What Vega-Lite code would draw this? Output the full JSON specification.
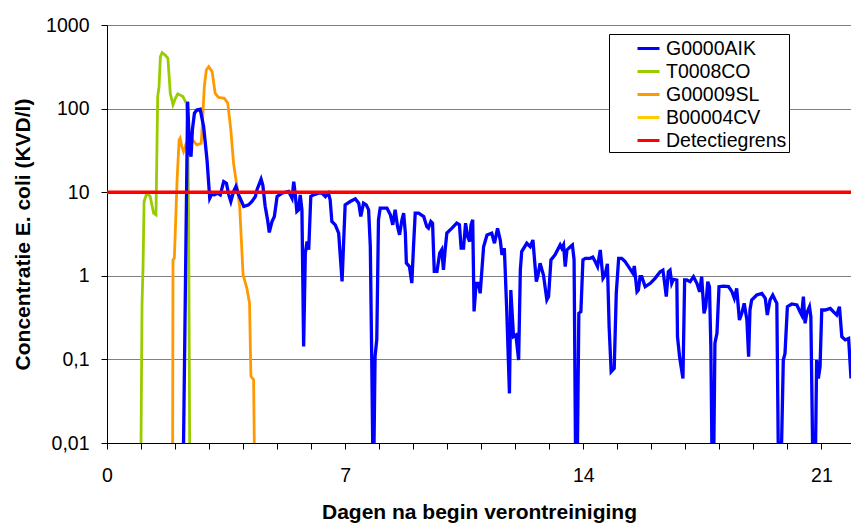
{
  "$schema": "https://vega.github.io/schema/vega-lite/v6.json",
  "width": 744,
  "height": 418,
  "autosize": {"type": "none"},
  "padding": {"left": 107, "top": 25, "right": 0, "bottom": 80},
  "background": "white",
  "config": {
    "view": {"stroke": null},
    "font": "Liberation Sans",
    "axis": {"labelFont": "Liberation Sans", "titleFont": "Liberation Sans", "labelColor": "black", "titleColor": "black", "domainColor": "black", "tickColor": "black", "domainWidth": 1, "tickWidth": 1}
  },
  "data": {"values": [
    {"serie":"T0008CO","dag":1.0,"waarde":0.01},{"serie":"T0008CO","dag":1.03,"waarde":0.471},{"serie":"T0008CO","dag":1.06,"waarde":1.29},{"serie":"T0008CO","dag":1.09,"waarde":7.73},{"serie":"T0008CO","dag":1.17,"waarde":9.73},{"serie":"T0008CO","dag":1.27,"waarde":8.87},{"serie":"T0008CO","dag":1.37,"waarde":5.61},{"serie":"T0008CO","dag":1.44,"waarde":5.36},{"serie":"T0008CO","dag":1.49,"waarde":139},{"serie":"T0008CO","dag":1.53,"waarde":183},{"serie":"T0008CO","dag":1.57,"waarde":419},{"serie":"T0008CO","dag":1.62,"waarde":467},{"serie":"T0008CO","dag":1.71,"waarde":437},{"serie":"T0008CO","dag":1.79,"waarde":400},{"serie":"T0008CO","dag":1.86,"waarde":152},{"serie":"T0008CO","dag":1.94,"waarde":111},{"serie":"T0008CO","dag":2.01,"waarde":133},{"serie":"T0008CO","dag":2.08,"waarde":150},{"serie":"T0008CO","dag":2.23,"waarde":139},{"serie":"T0008CO","dag":2.33,"waarde":116},{"serie":"T0008CO","dag":2.37,"waarde":73},{"serie":"T0008CO","dag":2.4,"waarde":4.67},{"serie":"T0008CO","dag":2.43,"waarde":0.01},
    {"serie":"G00009SL","dag":1.93,"waarde":0.01},{"serie":"G00009SL","dag":1.94,"waarde":1.55},{"serie":"G00009SL","dag":1.98,"waarde":1.63},{"serie":"G00009SL","dag":2.02,"waarde":4.67},{"serie":"G00009SL","dag":2.06,"waarde":14.0},{"serie":"G00009SL","dag":2.12,"waarde":42.2},{"serie":"G00009SL","dag":2.15,"waarde":44.2},{"serie":"G00009SL","dag":2.2,"waarde":35.1},{"serie":"G00009SL","dag":2.25,"waarde":30.6},{"serie":"G00009SL","dag":2.33,"waarde":38.5},{"serie":"G00009SL","dag":2.4,"waarde":42.2},{"serie":"G00009SL","dag":2.5,"waarde":43.0},{"serie":"G00009SL","dag":2.64,"waarde":36.8},{"serie":"G00009SL","dag":2.77,"waarde":38.5},{"serie":"G00009SL","dag":2.81,"waarde":73.3},{"serie":"G00009SL","dag":2.86,"waarde":183},{"serie":"G00009SL","dag":2.92,"waarde":290},{"serie":"G00009SL","dag":2.99,"waarde":318},{"serie":"G00009SL","dag":3.09,"waarde":277},{"serie":"G00009SL","dag":3.18,"waarde":152},{"serie":"G00009SL","dag":3.28,"waarde":136},{"serie":"G00009SL","dag":3.45,"waarde":133},{"serie":"G00009SL","dag":3.55,"waarde":116},{"serie":"G00009SL","dag":3.64,"waarde":55.6},{"serie":"G00009SL","dag":3.72,"waarde":22.2},{"serie":"G00009SL","dag":3.82,"waarde":11.7},{"serie":"G00009SL","dag":3.9,"waarde":6.75},{"serie":"G00009SL","dag":4.0,"waarde":1.03},{"serie":"G00009SL","dag":4.11,"waarde":0.713},{"serie":"G00009SL","dag":4.19,"waarde":0.471},{"serie":"G00009SL","dag":4.23,"waarde":0.0627},{"serie":"G00009SL","dag":4.31,"waarde":0.0572},{"serie":"G00009SL","dag":4.33,"waarde":0.01},
    {"serie":"G0000AIK","dag":2.25,"waarde":0.01},{"serie":"G0000AIK","dag":2.37,"waarde":121},{"serie":"G0000AIK","dag":2.43,"waarde":30.6},{"serie":"G0000AIK","dag":2.47,"waarde":26.7},{"serie":"G0000AIK","dag":2.51,"waarde":55.6},{"serie":"G0000AIK","dag":2.57,"waarde":88},{"serie":"G0000AIK","dag":2.64,"waarde":96},{"serie":"G0000AIK","dag":2.74,"waarde":98},{"serie":"G0000AIK","dag":2.84,"waarde":61},{"serie":"G0000AIK","dag":2.94,"waarde":24.3},{"serie":"G0000AIK","dag":3.02,"waarde":8.47},{"serie":"G0000AIK","dag":3.09,"waarde":9.73},{"serie":"G0000AIK","dag":3.15,"waarde":9.29},{"serie":"G0000AIK","dag":3.25,"waarde":9.73},{"serie":"G0000AIK","dag":3.33,"waarde":9.29},{"serie":"G0000AIK","dag":3.43,"waarde":13.4},{"serie":"G0000AIK","dag":3.51,"waarde":12.8},{"serie":"G0000AIK","dag":3.58,"waarde":9.29},{"serie":"G0000AIK","dag":3.64,"waarde":7.73},{"serie":"G0000AIK","dag":3.72,"waarde":10.2},{"serie":"G0000AIK","dag":3.79,"waarde":11.7},{"serie":"G0000AIK","dag":3.87,"waarde":9.29},{"serie":"G0000AIK","dag":4.02,"waarde":6.75},{"serie":"G0000AIK","dag":4.16,"waarde":7.06},{"serie":"G0000AIK","dag":4.26,"waarde":7.73},{"serie":"G0000AIK","dag":4.36,"waarde":8.87},{"serie":"G0000AIK","dag":4.41,"waarde":10.7},{"serie":"G0000AIK","dag":4.53,"waarde":14.3},{"serie":"G0000AIK","dag":4.58,"waarde":12.2},{"serie":"G0000AIK","dag":4.65,"waarde":6.75},{"serie":"G0000AIK","dag":4.72,"waarde":4.67},{"serie":"G0000AIK","dag":4.77,"waarde":3.3},{"serie":"G0000AIK","dag":4.85,"waarde":4.46},{"serie":"G0000AIK","dag":4.92,"waarde":5.12},{"serie":"G0000AIK","dag":5.0,"waarde":8.87},{"serie":"G0000AIK","dag":5.14,"waarde":9.73},{"serie":"G0000AIK","dag":5.34,"waarde":10.2},
    {"serie":"G0000AIK","dag":5.44,"waarde":8.47},{"serie":"G0000AIK","dag":5.49,"waarde":13.4},{"serie":"G0000AIK","dag":5.53,"waarde":9.73},{"serie":"G0000AIK","dag":5.58,"waarde":5.88},{"serie":"G0000AIK","dag":5.63,"waarde":6.15},{"serie":"G0000AIK","dag":5.68,"waarde":9.29},{"serie":"G0000AIK","dag":5.73,"waarde":6.15},{"serie":"G0000AIK","dag":5.78,"waarde":0.143},{"serie":"G0000AIK","dag":5.83,"waarde":1.87},{"serie":"G0000AIK","dag":5.88,"waarde":2.57},{"serie":"G0000AIK","dag":5.93,"waarde":2.05},{"serie":"G0000AIK","dag":5.99,"waarde":8.87},{"serie":"G0000AIK","dag":6.07,"waarde":9.29},{"serie":"G0000AIK","dag":6.22,"waarde":9.73},{"serie":"G0000AIK","dag":6.32,"waarde":9.73},{"serie":"G0000AIK","dag":6.42,"waarde":8.87},{"serie":"G0000AIK","dag":6.51,"waarde":9.73},{"serie":"G0000AIK","dag":6.56,"waarde":8.09},{"serie":"G0000AIK","dag":6.61,"waarde":4.46},{"serie":"G0000AIK","dag":6.71,"waarde":4.07},{"serie":"G0000AIK","dag":6.81,"waarde":3.24},{"serie":"G0000AIK","dag":6.91,"waarde":0.855},{"serie":"G0000AIK","dag":7.0,"waarde":7.06},{"serie":"G0000AIK","dag":7.15,"waarde":7.73},{"serie":"G0000AIK","dag":7.3,"waarde":8.32},{"serie":"G0000AIK","dag":7.4,"waarde":7.4},{"serie":"G0000AIK","dag":7.46,"waarde":5.12},{"serie":"G0000AIK","dag":7.54,"waarde":7.4},{"serie":"G0000AIK","dag":7.62,"waarde":7.06},{"serie":"G0000AIK","dag":7.69,"waarde":6.15},{"serie":"G0000AIK","dag":7.74,"waarde":2.24},{"serie":"G0000AIK","dag":7.78,"waarde":0.119},{"serie":"G0000AIK","dag":7.81,"waarde":0.01},{"serie":"G0000AIK","dag":7.85,"waarde":0.01},{"serie":"G0000AIK","dag":7.88,"waarde":0.109},{"serie":"G0000AIK","dag":7.93,"waarde":0.172},{"serie":"G0000AIK","dag":7.98,"waarde":4.67},{"serie":"G0000AIK","dag":8.03,"waarde":6.44},{"serie":"G0000AIK","dag":8.23,"waarde":6.44},{"serie":"G0000AIK","dag":8.33,"waarde":5.36},{"serie":"G0000AIK","dag":8.4,"waarde":4.07},{"serie":"G0000AIK","dag":8.47,"waarde":6.15},{"serie":"G0000AIK","dag":8.54,"waarde":3.89},{"serie":"G0000AIK","dag":8.6,"waarde":3.09},{"serie":"G0000AIK","dag":8.67,"waarde":4.67},{"serie":"G0000AIK","dag":8.72,"waarde":5.61},{"serie":"G0000AIK","dag":8.77,"waarde":3.24},{"serie":"G0000AIK","dag":8.8,"waarde":1.42},{"serie":"G0000AIK","dag":8.89,"waarde":1.29},{"serie":"G0000AIK","dag":8.96,"waarde":0.817},{"serie":"G0000AIK","dag":9.01,"waarde":2.24},{"serie":"G0000AIK","dag":9.06,"waarde":5.61},{"serie":"G0000AIK","dag":9.16,"waarde":5.61},{"serie":"G0000AIK","dag":9.31,"waarde":5.12},{"serie":"G0000AIK","dag":9.4,"waarde":3.89},{"serie":"G0000AIK","dag":9.45,"waarde":3.72},{"serie":"G0000AIK","dag":9.52,"waarde":4.46},{"serie":"G0000AIK","dag":9.57,"waarde":4.26},{"serie":"G0000AIK","dag":9.62,"waarde":1.13},{"serie":"G0000AIK","dag":9.7,"waarde":1.13},{"serie":"G0000AIK","dag":9.78,"waarde":1.87},{"serie":"G0000AIK","dag":9.84,"waarde":2.05},{"serie":"G0000AIK","dag":9.89,"waarde":1.18},{"serie":"G0000AIK","dag":9.94,"waarde":2.05},{"serie":"G0000AIK","dag":9.99,"waarde":3.24},{"serie":"G0000AIK","dag":10.14,"waarde":3.72},{"serie":"G0000AIK","dag":10.28,"waarde":4.26},{"serie":"G0000AIK","dag":10.36,"waarde":4.07},{"serie":"G0000AIK","dag":10.41,"waarde":2.14},{"serie":"G0000AIK","dag":10.48,"waarde":2.14},{"serie":"G0000AIK","dag":10.54,"waarde":4.26},{"serie":"G0000AIK","dag":10.6,"waarde":2.95},{"serie":"G0000AIK","dag":10.66,"waarde":2.57},{"serie":"G0000AIK","dag":10.7,"waarde":4.07},{"serie":"G0000AIK","dag":10.75,"waarde":4.67},{"serie":"G0000AIK","dag":10.79,"waarde":0.375},
    {"serie":"G0000AIK","dag":10.85,"waarde":0.813},{"serie":"G0000AIK","dag":10.92,"waarde":0.813},{"serie":"G0000AIK","dag":10.97,"waarde":0.617},{"serie":"G0000AIK","dag":11.02,"waarde":1.17},{"serie":"G0000AIK","dag":11.07,"waarde":2.23},{"serie":"G0000AIK","dag":11.17,"waarde":3.08},{"serie":"G0000AIK","dag":11.31,"waarde":3.23},{"serie":"G0000AIK","dag":11.39,"waarde":2.45},{"serie":"G0000AIK","dag":11.48,"waarde":3.7},{"serie":"G0000AIK","dag":11.56,"waarde":2.68},{"serie":"G0000AIK","dag":11.61,"waarde":1.78},{"serie":"G0000AIK","dag":11.68,"waarde":2.13},{"serie":"G0000AIK","dag":11.75,"waarde":0.39},{"serie":"G0000AIK","dag":11.83,"waarde":0.0392},{"serie":"G0000AIK","dag":11.87,"waarde":0.676},{"serie":"G0000AIK","dag":11.95,"waarde":0.187},{"serie":"G0000AIK","dag":12.02,"waarde":0.195},{"serie":"G0000AIK","dag":12.1,"waarde":0.0982},{"serie":"G0000AIK","dag":12.15,"waarde":1.17},{"serie":"G0000AIK","dag":12.19,"waarde":1.95},{"serie":"G0000AIK","dag":12.34,"waarde":2.45},{"serie":"G0000AIK","dag":12.44,"waarde":2.23},{"serie":"G0000AIK","dag":12.52,"waarde":2.68},{"serie":"G0000AIK","dag":12.62,"waarde":0.851},{"serie":"G0000AIK","dag":12.67,"waarde":1.02},{"serie":"G0000AIK","dag":12.73,"waarde":1.41},{"serie":"G0000AIK","dag":12.83,"waarde":1.02},{"serie":"G0000AIK","dag":12.93,"waarde":0.514},{"serie":"G0000AIK","dag":12.98,"waarde":0.563},{"serie":"G0000AIK","dag":13.05,"waarde":1.55},{"serie":"G0000AIK","dag":13.17,"waarde":1.78},{"serie":"G0000AIK","dag":13.32,"waarde":2.34},{"serie":"G0000AIK","dag":13.37,"waarde":2.13},{"serie":"G0000AIK","dag":13.42,"waarde":2.34},{"serie":"G0000AIK","dag":13.47,"waarde":1.29},{"serie":"G0000AIK","dag":13.52,"waarde":2.04},{"serie":"G0000AIK","dag":13.62,"waarde":2.23},{"serie":"G0000AIK","dag":13.68,"waarde":2.34},{"serie":"G0000AIK","dag":13.73,"waarde":1.55},{"serie":"G0000AIK","dag":13.77,"waarde":0.01},{"serie":"G0000AIK","dag":13.83,"waarde":0.01},{"serie":"G0000AIK","dag":13.87,"waarde":0.356},{"serie":"G0000AIK","dag":13.93,"waarde":0.372},{"serie":"G0000AIK","dag":13.99,"waarde":1.55},{"serie":"G0000AIK","dag":14.06,"waarde":1.62},{"serie":"G0000AIK","dag":14.2,"waarde":1.62},{"serie":"G0000AIK","dag":14.28,"waarde":1.67},{"serie":"G0000AIK","dag":14.35,"waarde":1.48},{"serie":"G0000AIK","dag":14.42,"waarde":1.29},{"serie":"G0000AIK","dag":14.5,"waarde":2.04},{"serie":"G0000AIK","dag":14.58,"waarde":0.933},{"serie":"G0000AIK","dag":14.64,"waarde":1.02},{"serie":"G0000AIK","dag":14.71,"waarde":1.39},{"serie":"G0000AIK","dag":14.76,"waarde":0.246},{"serie":"G0000AIK","dag":14.82,"waarde":0.0711},{"serie":"G0000AIK","dag":14.91,"waarde":0.078},{"serie":"G0000AIK","dag":14.97,"waarde":0.617},{"serie":"G0000AIK","dag":15.04,"waarde":1.62},{"serie":"G0000AIK","dag":15.13,"waarde":1.62},{"serie":"G0000AIK","dag":15.23,"waarde":1.48},{"serie":"G0000AIK","dag":15.33,"waarde":1.29},{"serie":"G0000AIK","dag":15.46,"waarde":1.07},{"serie":"G0000AIK","dag":15.5,"waarde":1.31},{"serie":"G0000AIK","dag":15.58,"waarde":0.646},{"serie":"G0000AIK","dag":15.62,"waarde":0.676},{"serie":"G0000AIK","dag":15.67,"waarde":0.977},{"serie":"G0000AIK","dag":15.72,"waarde":0.977},
    {"serie":"G0000AIK","dag":15.82,"waarde":0.741},{"serie":"G0000AIK","dag":15.97,"waarde":0.813},{"serie":"G0000AIK","dag":16.11,"waarde":0.933},{"serie":"G0000AIK","dag":16.26,"waarde":1.12},{"serie":"G0000AIK","dag":16.34,"waarde":1.17},{"serie":"G0000AIK","dag":16.38,"waarde":0.891},{"serie":"G0000AIK","dag":16.44,"waarde":0.563},{"serie":"G0000AIK","dag":16.5,"waarde":1.12},{"serie":"G0000AIK","dag":16.55,"waarde":1.17},{"serie":"G0000AIK","dag":16.6,"waarde":0.813},{"serie":"G0000AIK","dag":16.65,"waarde":0.908},{"serie":"G0000AIK","dag":16.75,"waarde":0.891},{"serie":"G0000AIK","dag":16.77,"waarde":0.187},{"serie":"G0000AIK","dag":16.83,"waarde":0.108},{"serie":"G0000AIK","dag":16.93,"waarde":0.0591},{"serie":"G0000AIK","dag":16.98,"waarde":0.891},{"serie":"G0000AIK","dag":17.04,"waarde":0.891},{"serie":"G0000AIK","dag":17.14,"waarde":0.851},{"serie":"G0000AIK","dag":17.24,"waarde":0.977},{"serie":"G0000AIK","dag":17.34,"waarde":0.813},{"serie":"G0000AIK","dag":17.42,"waarde":0.646},{"serie":"G0000AIK","dag":17.48,"waarde":0.977},{"serie":"G0000AIK","dag":17.55,"waarde":0.356},{"serie":"G0000AIK","dag":17.6,"waarde":0.427},{"serie":"G0000AIK","dag":17.66,"waarde":0.851},{"serie":"G0000AIK","dag":17.71,"waarde":0.741},{"serie":"G0000AIK","dag":17.75,"waarde":0.142},{"serie":"G0000AIK","dag":17.78,"waarde":0.01},{"serie":"G0000AIK","dag":17.84,"waarde":0.01},{"serie":"G0000AIK","dag":17.87,"waarde":0.156},{"serie":"G0000AIK","dag":17.93,"waarde":0.205},{"serie":"G0000AIK","dag":17.99,"waarde":0.741},{"serie":"G0000AIK","dag":18.12,"waarde":0.752},{"serie":"G0000AIK","dag":18.27,"waarde":0.741},{"serie":"G0000AIK","dag":18.37,"waarde":0.646},{"serie":"G0000AIK","dag":18.44,"waarde":0.538},{"serie":"G0000AIK","dag":18.51,"waarde":0.708},{"serie":"G0000AIK","dag":18.59,"waarde":0.296},{"serie":"G0000AIK","dag":18.66,"waarde":0.356},{"serie":"G0000AIK","dag":18.73,"waarde":0.469},{"serie":"G0000AIK","dag":18.81,"waarde":0.296},{"serie":"G0000AIK","dag":18.86,"waarde":0.108},{"serie":"G0000AIK","dag":18.9,"waarde":0.39},{"serie":"G0000AIK","dag":18.95,"waarde":0.514},{"serie":"G0000AIK","dag":19.1,"waarde":0.589},{"serie":"G0000AIK","dag":19.25,"waarde":0.617},{"serie":"G0000AIK","dag":19.35,"waarde":0.538},{"serie":"G0000AIK","dag":19.41,"waarde":0.34},{"serie":"G0000AIK","dag":19.49,"waarde":0.514},{"serie":"G0000AIK","dag":19.57,"waarde":0.589},{"serie":"G0000AIK","dag":19.64,"waarde":0.514},{"serie":"G0000AIK","dag":19.69,"waarde":0.469},{"serie":"G0000AIK","dag":19.73,"waarde":0.01},{"serie":"G0000AIK","dag":19.83,"waarde":0.01},{"serie":"G0000AIK","dag":19.88,"waarde":0.0982},{"serie":"G0000AIK","dag":19.93,"waarde":0.118},{"serie":"G0000AIK","dag":20.0,"waarde":0.427},{"serie":"G0000AIK","dag":20.13,"waarde":0.46},{"serie":"G0000AIK","dag":20.28,"waarde":0.448},{"serie":"G0000AIK","dag":20.37,"waarde":0.372},{"serie":"G0000AIK","dag":20.42,"waarde":0.34},{"serie":"G0000AIK","dag":20.47,"waarde":0.563},{"serie":"G0000AIK","dag":20.52,"waarde":0.27},{"serie":"G0000AIK","dag":20.57,"waarde":0.356},{"serie":"G0000AIK","dag":20.65,"waarde":0.427},{"serie":"G0000AIK","dag":20.69,"waarde":0.324},{"serie":"G0000AIK","dag":20.74,"waarde":0.01},{"serie":"G0000AIK","dag":20.83,"waarde":0.01},{"serie":"G0000AIK","dag":20.86,"waarde":0.0982},{"serie":"G0000AIK","dag":20.91,"waarde":0.0591},{"serie":"G0000AIK","dag":20.96,"waarde":0.0817},{"serie":"G0000AIK","dag":21.01,"waarde":0.39},{"serie":"G0000AIK","dag":21.11,"waarde":0.39},{"serie":"G0000AIK","dag":21.26,"waarde":0.408},{"serie":"G0000AIK","dag":21.35,"waarde":0.372},{"serie":"G0000AIK","dag":21.45,"waarde":0.34},{"serie":"G0000AIK","dag":21.53,"waarde":0.427},{"serie":"G0000AIK","dag":21.6,"waarde":0.187},{"serie":"G0000AIK","dag":21.7,"waarde":0.171},{"serie":"G0000AIK","dag":21.8,"waarde":0.178},{"serie":"G0000AIK","dag":21.87,"waarde":0.0591},
    {"serie":"Detectiegrens","dag":0,"waarde":10},{"serie":"Detectiegrens","dag":21.87,"waarde":10}
  ]},
  "encoding": {
    "x": {"field": "dag", "type": "quantitative",
      "scale": {"domain": [0, 21.87], "nice": false, "zero": false},
      "axis": {"title": "Dagen na begin verontreiniging", "titleFontSize": 21, "titleFontWeight": "bold", "titlePadding": 17,
        "values": [0,1,2,3,4,5,6,7,8,9,10,11,12,13,14,15,16,17,18,19,20,21],
        "labelExpr": "datum.value % 7 === 0 ? datum.label : ''",
        "labelFontSize": 19.5, "labelPadding": 17, "tickSize": 6, "grid": false, "labelFlush": false, "labelOverlap": false}},
    "y": {"field": "waarde", "type": "quantitative",
      "scale": {"type": "log", "domain": [0.01, 1000], "nice": false},
      "axis": {"title": "Concentratie E. coli (KVD/l)", "titleFontSize": 21, "titleFontWeight": "bold", "titlePadding": 12,
        "values": [0.01, 0.1, 1, 10, 100, 1000],
        "labelExpr": "replace(toString(datum.value), '.', ',')",
        "labelFontSize": 19.5, "labelPadding": 12, "tickSize": 6, "grid": true, "gridColor": "#808080", "gridWidth": 1, "labelFlush": false}},
    "color": {"field": "serie", "type": "nominal",
      "scale": {"domain": ["G0000AIK", "T0008CO", "G00009SL", "B00004CV", "Detectiegrens"], "range": ["#0000ff", "#99cc00", "#ff9900", "#ffcc00", "#ff0000"]},
      "legend": {"title": null, "orient": "none", "legendX": 502, "legendY": 9, "strokeColor": "black", "fillColor": "white", "padding": 2,
        "symbolType": "stroke", "symbolStrokeWidth": 3, "symbolSize": 484, "symbolOffset": 25, "labelOffset": 5, "rowPadding": 1,
        "labelFont": "Liberation Sans", "labelFontSize": 19.5, "labelColor": "black", "labelLimit": 300}}
  },
  "layer": [
    {"transform": [{"filter": "datum.serie === 'T0008CO' || datum.serie === 'G00009SL'"}], "mark": {"type": "line", "strokeWidth": 2.8, "clip": true}},
    {"transform": [{"filter": "datum.serie === 'G0000AIK'"}], "mark": {"type": "line", "strokeWidth": 3.3, "clip": true}},
    {"transform": [{"filter": "datum.serie === 'Detectiegrens'"}], "mark": {"type": "line", "strokeWidth": 3.5, "clip": true}}
  ]
}
